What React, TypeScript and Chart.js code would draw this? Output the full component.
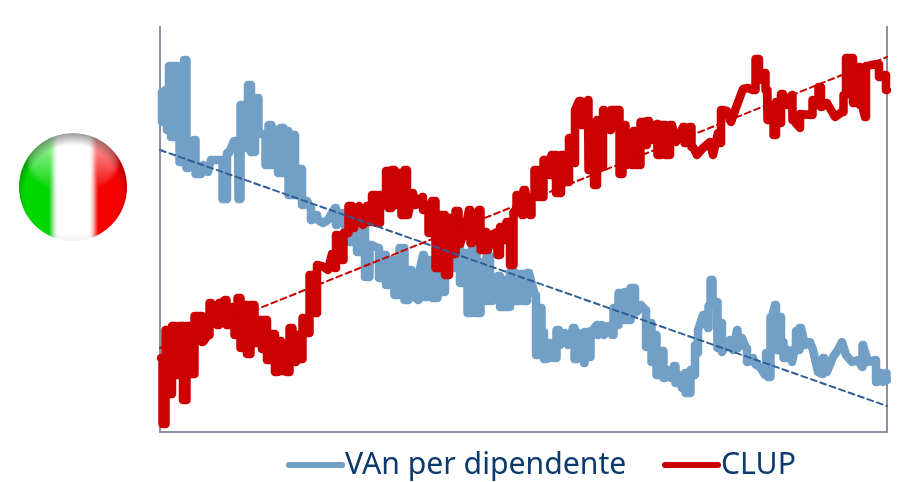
import React, { useEffect, useRef } from "react";
import { Chart, registerables } from "chart.js";

Chart.register(...registerables);

// Periods along the horizontal axis and index levels (arbitrary units) for each series.
const vanPeriods = [2,2,5,6,8,10,12,16,18,21,23,25,28,34,37,41,43,48,51,56,60,65,69,74,78,79,82,87,89,93,97,100,104,107,110,113,117,119,122,125,127,130,134,136,140,144,147,150,152,157,158,163,168,175,177,182,186,190,194,200,203,207,212,218,220,224,228,232,237,242,247,250,253,258,259,263,265,270,275,280,283,287,292,298,302,305,310,314,319,322,325,328,332,338,342,345,348,352,357,362,365,369,373,375,377,380,383,385,388,390,393,395,398,400,405,408,413,416,418,424,425,429,432,437,438,442,444,448,452,455,457,460,463,467,468,473,477,481,485,487,490,493,495,498,502,505,508,511,514,517,519,522,525,526,528,530,531,535,535,538,538,543,548,549,552,553,557,558,562,562,570,573,577,578,582,586,588,593,595,600,605,607,609,612,615,617,620,622,625,628,632,635,637,638,641,645,650,653,658,662,664,667,673,678,682,686,692,698,702,703,708,715,717,721,723,726,727];
const vanValues = [310,340,310,342,302,366,295,366,300,270,352,372,264,292,258,258,267,260,272,272,272,233,279,291,291,233,327,284,347,280,334,298,298,267,307,267,302,259,304,259,301,237,297,237,263,227,231,225,212,217,212,209,212,224,207,219,202,190,214,180,207,155,187,184,154,177,147,172,137,184,132,162,137,132,159,177,135,172,134,177,140,182,164,197,149,179,119,187,119,170,131,176,131,156,125,152,125,160,131,158,131,159,144,137,77,124,100,73,89,74,89,74,102,87,99,87,104,73,99,69,100,75,101,107,97,107,97,106,97,124,107,139,112,140,112,144,120,127,122,85,109,70,97,57,81,54,62,54,66,49,57,44,59,39,57,39,62,57,87,79,102,117,104,126,152,132,130,84,109,80,92,82,102,84,94,84,70,74,68,65,57,79,55,115,127,82,115,90,74,82,70,84,101,82,104,87,90,82,60,58,74,60,75,82,90,77,70,72,65,87,70,72,50,59,50,59,52];

const clupPeriods = [1,4,7,11,13,17,21,25,28,32,37,41,43,48,51,57,61,65,68,73,76,79,82,85,89,92,97,101,103,105,109,113,117,119,123,125,128,131,134,138,141,144,148,151,156,158,162,168,172,175,177,182,185,187,190,194,199,203,207,210,214,218,222,225,227,230,233,236,240,243,246,248,253,256,262,264,267,270,274,277,283,287,291,294,297,300,305,309,312,319,322,325,328,332,337,338,342,345,348,352,355,358,362,365,370,373,376,380,387,390,393,399,403,408,410,415,415,419,423,428,429,433,435,439,442,444,450,452,458,461,464,467,472,472,475,479,482,485,489,493,497,498,503,508,512,516,523,526,530,533,537,543,550,553,558,560,562,567,571,577,580,583,588,593,598,600,604,607,608,612,615,617,619,623,627,632,633,640,640,652,653,657,660,662,667,675,682,685,687,691,695,698,702,705,707,711,718,720,725,727];
const clupValues = [74,8,102,38,106,57,106,32,106,58,116,116,90,97,129,107,129,132,107,125,97,134,84,127,78,127,89,112,83,112,72,98,60,91,61,86,60,104,70,97,73,114,99,157,119,167,166,162,178,164,197,172,199,199,226,204,226,207,226,210,237,209,237,227,261,224,262,227,259,217,262,217,239,227,235,222,227,199,231,164,217,157,214,178,221,188,202,222,189,222,182,200,182,197,200,177,205,192,210,167,220,237,217,242,217,235,262,235,272,257,277,239,277,250,294,269,322,331,307,332,262,309,247,312,265,322,302,322,322,258,307,267,292,267,301,267,310,287,311,292,308,277,307,277,307,290,305,289,305,285,277,284,290,277,299,289,322,321,310,327,335,343,344,342,373,352,359,342,312,322,297,330,309,338,327,337,312,304,318,317,332,327,345,325,329,315,320,337,374,374,329,365,327,315,366,367,368,355,357,342];

// Fitted linear trends, given by their end values.
const trendPeriods = [0, 727];
const vanTrend = [282, 26];
const clupTrend = [84, 375];

const pairs = (xs: number[], ys: number[]) => xs.map((x, i) => ({ x, y: ys[i] }));

// Sharp moves between two readings are drawn as a vertical wall half way along,
// gentle moves stay as plain straight segments.
const withWalls = (xs: number[], ys: number[]) => {
  const out: { x: number; y: number }[] = [];
  xs.forEach((x, i) => {
    out.push({ x, y: ys[i] });
    if (i + 1 < xs.length) {
      const dx = xs[i + 1] - x;
      const dy = Math.abs(ys[i + 1] - ys[i]);
      if (dx > 0 && dy / dx > 5) {
        const mid = x + dx / 2;
        out.push({ x: mid, y: ys[i] }, { x: mid, y: ys[i + 1] });
      }
    }
  });
  return out;
};

const BLUE = "#719FC5";
const RED = "#CC0000";
const AXIS = "#8F90A3";

// Legend with short line handles sitting right next to their labels.
const lineLegend = {
  id: "lineLegend",
  afterDraw(chart: any) {
    const { ctx } = chart;
    const items = chart.data.datasets.filter((d: any) => !d.trend);
    const starts = [289, 665];
    const y = 465;
    ctx.save();
    ctx.font = '30.2px "Noto Sans"';
    ctx.textBaseline = "middle";
    items.forEach((d: any, i: number) => {
      const x = starts[i];
      ctx.strokeStyle = d.borderColor;
      ctx.lineWidth = 6;
      ctx.lineCap = "round";
      ctx.beginPath();
      ctx.moveTo(x, y);
      ctx.lineTo(x + 53, y);
      ctx.stroke();
      ctx.fillStyle = "#0B3A6E";
      ctx.fillText(d.label, x + 56, y);
    });
    ctx.restore();
  },
};

function FlagBadge() {
  return (
    <svg
      width={130}
      height={130}
      viewBox="0 0 130 130"
      style={{ position: "absolute", left: 8, top: 122 }}
    >
      <defs>
        <clipPath id="disc">
          <circle cx="65" cy="65" r="54" />
        </clipPath>
        <linearGradient id="gloss" x1="0" y1="0" x2="0" y2="1">
          <stop offset="0" stopColor="#fff" stopOpacity="0.8" />
          <stop offset="1" stopColor="#fff" stopOpacity="0" />
        </linearGradient>
        <radialGradient id="rim" cx="0.5" cy="0.56" r="0.56">
          <stop offset="0.8" stopColor="#000" stopOpacity="0" />
          <stop offset="1" stopColor="#000" stopOpacity="0.4" />
        </radialGradient>
        <linearGradient id="lowWhite" x1="0" y1="0" x2="0" y2="1">
          <stop offset="0.8" stopColor="#fff" />
          <stop offset="1" stopColor="#D8C8D8" />
        </linearGradient>
        <filter id="soft">
          <feGaussianBlur stdDeviation="2" />
        </filter>
      </defs>
      <g clipPath="url(#disc)">
        <g filter="url(#soft)">
          <rect x="-10" y="-10" width="56" height="150" fill="#00D800" />
          <rect x="46" y="-10" width="39" height="150" fill="url(#lowWhite)" />
          <rect x="85" y="-10" width="55" height="150" fill="#F40000" />
          <ellipse cx="65" cy="38" rx="44" ry="32" fill="url(#gloss)" />
        </g>
        <circle cx="65" cy="65" r="54" fill="url(#rim)" />
      </g>
    </svg>
  );
}

export default function App() {
  const ref = useRef<HTMLCanvasElement>(null);

  useEffect(() => {
    const chart = new Chart(ref.current!, {
      type: "line",
      data: {
        datasets: [
          { label: "VAn per dipendente", data: withWalls(vanPeriods, vanValues), borderColor: BLUE, borderWidth: 8.5, order: 4 },
          { label: "CLUP", data: withWalls(clupPeriods, clupValues), borderColor: RED, borderWidth: 8.5, order: 3 },
          { label: "Trend VAn", trend: true, data: pairs(trendPeriods, vanTrend), borderColor: "#2F5F96", borderWidth: 2, borderDash: [6, 4], order: 2 },
          { label: "Trend CLUP", trend: true, data: pairs(trendPeriods, clupTrend), borderColor: "#C80000", borderWidth: 2, borderDash: [6, 4], order: 1 },
        ] as any,
      },
      options: {
        responsive: false,
        animation: false,
        parsing: false,
        normalized: false,
        layout: { padding: { left: 152, right: 9, top: 27, bottom: 42 } },
        datasets: {
          line: {
            pointRadius: 0,
            tension: 0,
            borderJoinStyle: "round",
            borderCapStyle: "round",
            clip: false,
          },
        },
        plugins: { legend: { display: false }, tooltip: { enabled: false } },
        scales: {
          x: {
            type: "linear",
            min: 0,
            max: 727,
            ticks: { display: false },
            grid: { display: false },
            border: { color: AXIS, width: 2 },
          },
          y: {
            position: "left",
            min: 0,
            max: 405,
            ticks: { display: false },
            grid: { display: false },
            border: { color: AXIS, width: 2 },
          },
          yRight: {
            position: "right",
            min: 0,
            max: 405,
            ticks: { display: false },
            grid: { display: false },
            border: { color: AXIS, width: 2 },
          },
        },
      } as any,
      plugins: [lineLegend],
    });
    return () => chart.destroy();
  }, []);

  return (
    <div style={{ position: "fixed", left: 0, top: 0, width: 904, height: 482, background: "#fff", overflow: "hidden" }}>
      <canvas ref={ref} width={904} height={482} style={{ display: "block" }} />
      <FlagBadge />
    </div>
  );
}
